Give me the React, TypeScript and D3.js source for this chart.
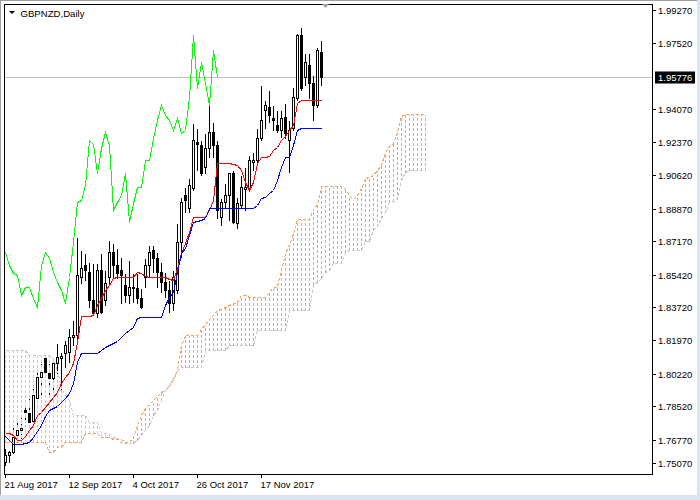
import { useEffect, useRef } from "react";
import * as d3 from "d3";

const SYMBOL = "GBPNZD,Daily";
const LAST_PRICE = 1.95776;
const SHIFT = 26;

const opens = [
  1.7561, 1.7597, 1.7613, 1.7702, 1.7728, 1.7833, 1.7817, 1.7775, 1.7895, 1.8005,
  1.8105, 1.8026, 1.8, 1.8079, 1.8105, 1.8131, 1.8137, 1.8215, 1.8225, 1.8529,
  1.8592, 1.8556, 1.8409, 1.834, 1.8566, 1.8409, 1.8529, 1.866, 1.8592, 1.8566,
  1.8487, 1.8435, 1.8471, 1.8471, 1.8419, 1.8529, 1.8592, 1.8671, 1.8629, 1.8556,
  1.8503, 1.8461, 1.8393, 1.8461, 1.8712, 1.8958, 1.889, 1.8995, 1.9236, 1.922,
  1.9105, 1.9204, 1.9288, 1.922, 1.8843, 1.8922, 1.8958, 1.9073, 1.8812, 1.8906,
  1.899, 1.8995, 1.9131, 1.9142, 1.9257, 1.9403, 1.9419, 1.9361, 1.9325, 1.9299,
  1.9367, 1.9246, 1.9309, 1.9466, 1.9796, 1.9576, 1.9639, 1.9545, 1.9429, 1.9707,
];
const highs = [
  1.7634, 1.7623, 1.7743, 1.777, 1.7807, 1.7849, 1.7895, 1.7948, 1.8032, 1.8079,
  1.811, 1.8079, 1.811, 1.8183, 1.8137, 1.8199, 1.8262, 1.8304, 1.8739, 1.8671,
  1.8655, 1.8608, 1.8602, 1.8602, 1.8655, 1.8566, 1.8723, 1.8707, 1.8681, 1.8634,
  1.855, 1.8618, 1.855, 1.855, 1.8471, 1.8629, 1.8697, 1.8697, 1.866, 1.8608,
  1.8556, 1.8513, 1.8566, 1.8812, 1.8948, 1.9001, 1.9047, 1.9335, 1.9309, 1.9246,
  1.9283, 1.944, 1.934, 1.9246, 1.8943, 1.9021, 1.9078, 1.9089, 1.8948, 1.9063,
  1.9105, 1.9168, 1.9183, 1.9309, 1.9535, 1.9456, 1.9508, 1.9429, 1.9403, 1.9403,
  1.944, 1.9351, 1.9524, 1.9806, 1.9838, 1.9702, 1.9702, 1.9587, 1.9733, 1.977,
];
const lows = [
  1.7545, 1.7561, 1.7607, 1.7676, 1.7686, 1.7764, 1.7764, 1.7764, 1.7885, 1.7901,
  1.8026, 1.7901, 1.7938, 1.8026, 1.7901, 1.8058, 1.8084, 1.8173, 1.8199, 1.8497,
  1.8513, 1.8372, 1.833, 1.8319, 1.834, 1.8382, 1.8497, 1.8529, 1.8524, 1.8393,
  1.8399, 1.8393, 1.8399, 1.8393, 1.8367, 1.8477, 1.8529, 1.8556, 1.8477, 1.845,
  1.8424, 1.8346, 1.8356, 1.8445, 1.8634, 1.8869, 1.8869, 1.8985, 1.9089, 1.9063,
  1.9073, 1.9157, 1.9157, 1.8838, 1.8801, 1.8895, 1.8828, 1.8812, 1.8786, 1.889,
  1.888, 1.8985, 1.9089, 1.9126, 1.9246, 1.9309, 1.934, 1.9299, 1.9288, 1.9262,
  1.9257, 1.9078, 1.9299, 1.9456, 1.9508, 1.9535, 1.9466, 1.9351, 1.9419, 1.9535,
];
const closes = [
  1.7597, 1.7613, 1.7691, 1.7728, 1.7738, 1.7823, 1.777, 1.7912, 1.8005, 1.8032,
  1.8032, 1.8, 1.8079, 1.811, 1.8116, 1.8173, 1.8215, 1.8225, 1.854, 1.8576,
  1.8566, 1.8409, 1.834, 1.8566, 1.8346, 1.8497, 1.866, 1.8592, 1.855, 1.854,
  1.8435, 1.8477, 1.8477, 1.8419, 1.8372, 1.8592, 1.866, 1.8629, 1.8556, 1.8503,
  1.8461, 1.8393, 1.8529, 1.8712, 1.8922, 1.8932, 1.9011, 1.9246, 1.9225, 1.9073,
  1.9204, 1.9288, 1.922, 1.888, 1.8922, 1.8958, 1.9073, 1.8817, 1.8916, 1.9001,
  1.9001, 1.9142, 1.9142, 1.9257, 1.9351, 1.9429, 1.9377, 1.9351, 1.9299, 1.9361,
  1.9283, 1.9299, 1.9471, 1.9796, 1.9518, 1.9655, 1.9545, 1.9429, 1.9717, 1.95776,
];

// Tenkan-sen (red) and Kijun-sen (blue), one value per bar
const tenkan = [
  1.7712, 1.7712, 1.7702, 1.7676, 1.7676, 1.7697, 1.7728, 1.7754, 1.7807, 1.7823,
  1.7849, 1.7875, 1.7901, 1.7927, 1.7974, 1.8005, 1.8032, 1.8079, 1.8189, 1.8325,
  1.8325, 1.8325, 1.833, 1.8382, 1.8419, 1.8461, 1.8487, 1.8524, 1.8529, 1.8529,
  1.8529, 1.8529, 1.8529, 1.8556, 1.855, 1.8534, 1.8529, 1.8529, 1.8529, 1.8529,
  1.8529, 1.8519, 1.8513, 1.8576, 1.8655, 1.8707, 1.8765, 1.8843, 1.8843, 1.8843,
  1.8843, 1.888, 1.8932, 1.9126, 1.9126, 1.9126, 1.9126, 1.912, 1.9115, 1.9089,
  1.9026, 1.8985, 1.9026, 1.9126, 1.9157, 1.9157, 1.9162, 1.9194, 1.9209, 1.9246,
  1.9267, 1.9299, 1.9325, 1.944, 1.9456, 1.9456, 1.9456, 1.9456, 1.9456, 1.9456,
];
const kijun = [
  1.7697, 1.7676, 1.7655, 1.7655, 1.7655, 1.766, 1.7665, 1.7692, 1.7723, 1.7754,
  1.7801, 1.7833, 1.7843, 1.7854, 1.7875, 1.7895, 1.7922, 1.7974, 1.8084, 1.8131,
  1.8131, 1.8131, 1.8131, 1.8131, 1.8147, 1.8163, 1.8173, 1.8183, 1.8194, 1.8215,
  1.8236, 1.8252, 1.8268, 1.8315, 1.8319, 1.8319, 1.8319, 1.8319, 1.8319, 1.8319,
  1.8382, 1.8424, 1.845, 1.8556, 1.8655, 1.8681, 1.8749, 1.8817, 1.8822, 1.8828,
  1.8838, 1.889, 1.889, 1.889, 1.889, 1.889, 1.889, 1.889, 1.889, 1.889,
  1.889, 1.889, 1.889, 1.8906, 1.8943, 1.8948, 1.8969, 1.8985, 1.9037, 1.9105,
  1.9157, 1.9157, 1.922, 1.9299, 1.9309, 1.9309, 1.9309, 1.9309, 1.9309, 1.9309,
];

// Senkou spans, already drawn 26 bars ahead (106 slots)
const spanA = [
  1.7665, 1.7665, 1.7665, 1.7665, 1.7665, 1.7665, 1.7665, 1.7665, 1.7665, 1.7665,
  1.7665, 1.7613, 1.7613, 1.7639, 1.7639, 1.7665, 1.7665, 1.7665, 1.7665, 1.7665,
  1.7712, 1.7712, 1.7712, 1.7712, 1.7691, 1.7691, 1.7691, 1.7681, 1.7681, 1.7681,
  1.7665, 1.7665, 1.7691, 1.7754, 1.7807, 1.7843, 1.7864, 1.7885, 1.7906, 1.7927,
  1.7938, 1.7959, 1.799, 1.8042, 1.8173, 1.8225, 1.8225, 1.8225, 1.8225, 1.8257,
  1.8283, 1.8309, 1.833, 1.8356, 1.8362, 1.8372, 1.8382, 1.8393, 1.8398, 1.8435,
  1.8435, 1.8424, 1.8424, 1.8424, 1.8424, 1.8424, 1.8456, 1.8471, 1.8482, 1.8566,
  1.8655, 1.8697, 1.876, 1.8833, 1.8833, 1.8833, 1.8833, 1.8885, 1.8911, 1.9006,
  1.9006, 1.9006, 1.9006, 1.9006, 1.9006, 1.899, 1.8958, 1.8937, 1.8958, 1.8995,
  1.9047, 1.9053, 1.9063, 1.9089, 1.9115, 1.9183, 1.9215, 1.923, 1.9288, 1.9372,
  1.9382, 1.9382, 1.9382, 1.9382, 1.9382, 1.9382,
];
const spanB = [
  1.8147, 1.8147, 1.8147, 1.8147, 1.8147, 1.8147, 1.8121, 1.8121, 1.8121, 1.8121,
  1.8121, 1.8121, 1.8105, 1.8042, 1.7948, 1.7912, 1.7885, 1.7807, 1.7807, 1.7807,
  1.7807, 1.777, 1.777, 1.777, 1.7712, 1.7712, 1.7712, 1.7691, 1.7691, 1.766,
  1.766, 1.766, 1.766, 1.7676, 1.7702, 1.7728, 1.7754, 1.7807, 1.7833, 1.7885,
  1.7938, 1.7964, 1.8, 1.8042, 1.8058, 1.8058, 1.8058, 1.8058, 1.8058, 1.8058,
  1.8147, 1.8147, 1.8147, 1.8147, 1.8147, 1.8147, 1.8173, 1.8173, 1.8173, 1.8173,
  1.8173, 1.8173, 1.8173, 1.8252, 1.8252, 1.8252, 1.8252, 1.8252, 1.8252, 1.8252,
  1.8252, 1.8356, 1.8356, 1.8356, 1.8356, 1.8356, 1.8356, 1.8492, 1.8503, 1.8524,
  1.8556, 1.8566, 1.8602, 1.8602, 1.8602, 1.866, 1.8671, 1.8671, 1.8671, 1.8671,
  1.8718, 1.8718, 1.8776, 1.8797, 1.8838, 1.8869, 1.8922, 1.8927, 1.8938, 1.9037,
  1.9078, 1.9089, 1.9089, 1.9089, 1.9089, 1.9089,
];

const priceLabels = [
  "1.99270", "1.97520", "1.94070", "1.92370", "1.90620", "1.88870", "1.87170",
  "1.85420", "1.83720", "1.81970", "1.80220", "1.78520", "1.76770", "1.75070",
];
const dateLabels = ["21 Aug 2017", "12 Sep 2017", "4 Oct 2017", "26 Oct 2017", "17 Nov 2017"];
const dateBars = [0, 16, 32, 48, 64];

const FONT = "Tahoma, 'Liberation Sans', Arial, sans-serif";
const LEFT = 4;
const TOP = 4;
const RIGHT = 652;
const BOTTOM = 474;

export default function App() {
  const svgRef = useRef<SVGSVGElement>(null);

  useEffect(() => {
    const svgEl = svgRef.current;
    if (!svgEl) {
      return;
    }
    const root = d3.select(svgEl);
    root.selectAll("*").remove();

    const x = d3.scaleLinear().domain([0, 160]).range([5.5, 645.5]);
    const y = d3.scaleLinear().domain([1.7507, 1.9927]).range([472.2, 10]);
    const py = (v: number) => Math.round(y(v)) + 0.5;

    // window chrome
    root.append("rect").attr("width", 700).attr("height", 500).attr("fill", "#fff");
    root.append("rect").attr("x", 0).attr("y", 495).attr("width", 700).attr("height", 5).attr("fill", "#dbe5f1");
    root.append("rect").attr("x", 697).attr("y", 0).attr("width", 3).attr("height", 500).attr("fill", "#dbe5f1");
    root.append("line").attr("x1", 0.5).attr("x2", 0.5).attr("y1", 0).attr("y2", 495).attr("stroke", "#a0a0a0");
    root.append("line").attr("x1", 0).attr("x2", 697).attr("y1", 0.5).attr("y2", 0.5).attr("stroke", "#a0a0a0");

    root
      .append("clipPath")
      .attr("id", "plot-clip")
      .append("rect")
      .attr("x", LEFT + 1)
      .attr("y", TOP + 1)
      .attr("width", RIGHT - LEFT - 1)
      .attr("height", BOTTOM - TOP - 1);

    const plot = root.append("g").attr("clip-path", "url(#plot-clip)").attr("shape-rendering", "crispEdges");

    // current price line
    plot
      .append("line")
      .attr("x1", LEFT)
      .attr("x2", RIGHT)
      .attr("y1", py(LAST_PRICE))
      .attr("y2", py(LAST_PRICE))
      .attr("stroke", "#c0c0c0");

    // candles
    const bars = d3.range(closes.length);
    const candles = plot.append("g").selectAll("g").data(bars).join("g");
    candles
      .append("line")
      .attr("x1", (i) => x(i))
      .attr("x2", (i) => x(i))
      .attr("y1", (i) => py(highs[i]))
      .attr("y2", (i) => py(lows[i]))
      .attr("stroke", "#000");
    candles
      .append("rect")
      .attr("x", (i) => x(i) - 1)
      .attr("width", 2)
      .attr("y", (i) => py(Math.max(opens[i], closes[i])))
      .attr("height", (i) => Math.max(0, py(Math.min(opens[i], closes[i])) - py(Math.max(opens[i], closes[i]))))
      .attr("fill", (i) => (closes[i] >= opens[i] ? "#fff" : "#000"))
      .attr("stroke", "#000");

    // cloud hatch: dotted pen, the gaps cut through wicks like the terminal does
    const cloudIdx = d3.range(spanA.length);
    const hatch = plot.append("g");
    hatch
      .selectAll("line.gap")
      .data(cloudIdx.filter((i) => i < closes.length))
      .join("line")
      .attr("class", "gap")
      .attr("x1", (i) => x(i))
      .attr("x2", (i) => x(i))
      .attr("y1", (i) => Math.max(py(Math.max(spanA[i], spanB[i])), py(highs[i])))
      .attr("y2", (i) => Math.min(py(Math.min(spanA[i], spanB[i])), py(lows[i])))
      .attr("stroke", "#fff")
      .attr("stroke-dasharray", "0,3,2")
      .attr("stroke-opacity", 0.9);
    hatch
      .selectAll("line.dot")
      .data(cloudIdx)
      .join("line")
      .attr("class", "dot")
      .attr("x1", (i) => x(i))
      .attr("x2", (i) => x(i))
      .attr("y1", (i) => py(Math.min(spanA[i], spanB[i])))
      .attr("y2", (i) => py(Math.max(spanA[i], spanB[i])))
      .attr("stroke", (i) => (spanA[i] >= spanB[i] ? "#f4a460" : "#d8bfd8"))
      .attr("stroke-dasharray", "3,2");

    // redraw bodies over the hatch
    plot
      .append("g")
      .selectAll("rect")
      .data(bars)
      .join("rect")
      .attr("x", (i) => x(i) - 1)
      .attr("width", 2)
      .attr("y", (i) => py(Math.max(opens[i], closes[i])))
      .attr("height", (i) => Math.max(0, py(Math.min(opens[i], closes[i])) - py(Math.max(opens[i], closes[i]))))
      .attr("fill", (i) => (closes[i] >= opens[i] ? "#fff" : "#000"))
      .attr("stroke", "#000");

    const line = d3
      .line<number>()
      .x((_, i) => x(i))
      .y((d) => py(d));

    plot
      .append("path")
      .attr("d", line(spanB))
      .attr("fill", "none")
      .attr("stroke", "#d8bfd8")
      .attr("stroke-dasharray", "3,2");
    plot
      .append("path")
      .attr("d", line(spanA))
      .attr("fill", "none")
      .attr("stroke", "#f4a460")
      .attr("stroke-dasharray", "3,2");

    // lines
    plot.append("path").attr("d", line(tenkan)).attr("fill", "none").attr("stroke", "#ff0000");
    plot.append("path").attr("d", line(kijun)).attr("fill", "none").attr("stroke", "#0000ff");
    plot
      .append("path")
      .attr("d", line(closes.slice(SHIFT)))
      .attr("fill", "none")
      .attr("stroke", "#00ff00");

    // frame
    root
      .append("rect")
      .attr("x", LEFT + 0.5)
      .attr("y", TOP + 0.5)
      .attr("width", RIGHT - LEFT)
      .attr("height", BOTTOM - TOP)
      .attr("fill", "none")
      .attr("stroke", "#000")
      .attr("shape-rendering", "crispEdges");

    // chart shift marker
    root.append("path").attr("d", "M322,4 L329,4 L325.5,8 Z").attr("fill", "#a0a0a0");

    // title
    root.append("path").attr("d", "M9,11 L15,11 L12,14 Z").attr("fill", "#000");
    root
      .append("text")
      .attr("x", 20.5)
      .attr("y", 16.5)
      .attr("font-family", FONT)
      .attr("font-size", 9.6)
      .attr("fill", "#000")
      .text(SYMBOL);

    // price axis
    const priceAxis = root.append("g").attr("font-family", FONT).attr("font-size", 9.5);
    priceLabels.forEach((lab) => {
      const yy = Math.min(Math.round(y(+lab)), BOTTOM - 11) + 0.5;
      priceAxis
        .append("line")
        .attr("x1", RIGHT)
        .attr("x2", RIGHT + 4)
        .attr("y1", yy)
        .attr("y2", yy)
        .attr("stroke", "#000")
        .attr("shape-rendering", "crispEdges");
      priceAxis
        .append("text")
        .attr("x", 658)
        .attr("y", yy)
        .attr("dy", "0.35em")
        .attr("fill", "#000")
        .text(lab);
    });

    const yp = py(LAST_PRICE);
    priceAxis
      .append("rect")
      .attr("x", 655)
      .attr("y", yp - 6)
      .attr("width", 40)
      .attr("height", 12)
      .attr("fill", "#000");
    priceAxis
      .append("text")
      .attr("x", 658)
      .attr("y", yp)
      .attr("dy", "0.35em")
      .attr("fill", "#fff")
      .text(LAST_PRICE.toFixed(5));

    // time axis
    const timeAxis = root.append("g").attr("font-family", FONT).attr("font-size", 9.5);
    dateBars.forEach((b, k) => {
      const xx = x(b);
      timeAxis
        .append("line")
        .attr("x1", xx)
        .attr("x2", xx)
        .attr("y1", BOTTOM)
        .attr("y2", BOTTOM + 4)
        .attr("stroke", "#000")
        .attr("shape-rendering", "crispEdges");
      timeAxis
        .append("text")
        .attr("x", xx - 1)
        .attr("y", 487.5)
        .attr("fill", "#000")
        .text(dateLabels[k]);
    });
  }, []);

  return (
    <svg
      ref={svgRef}
      width={700}
      height={500}
      style={{ position: "absolute", left: 0, top: 0, display: "block" }}
    />
  );
}
